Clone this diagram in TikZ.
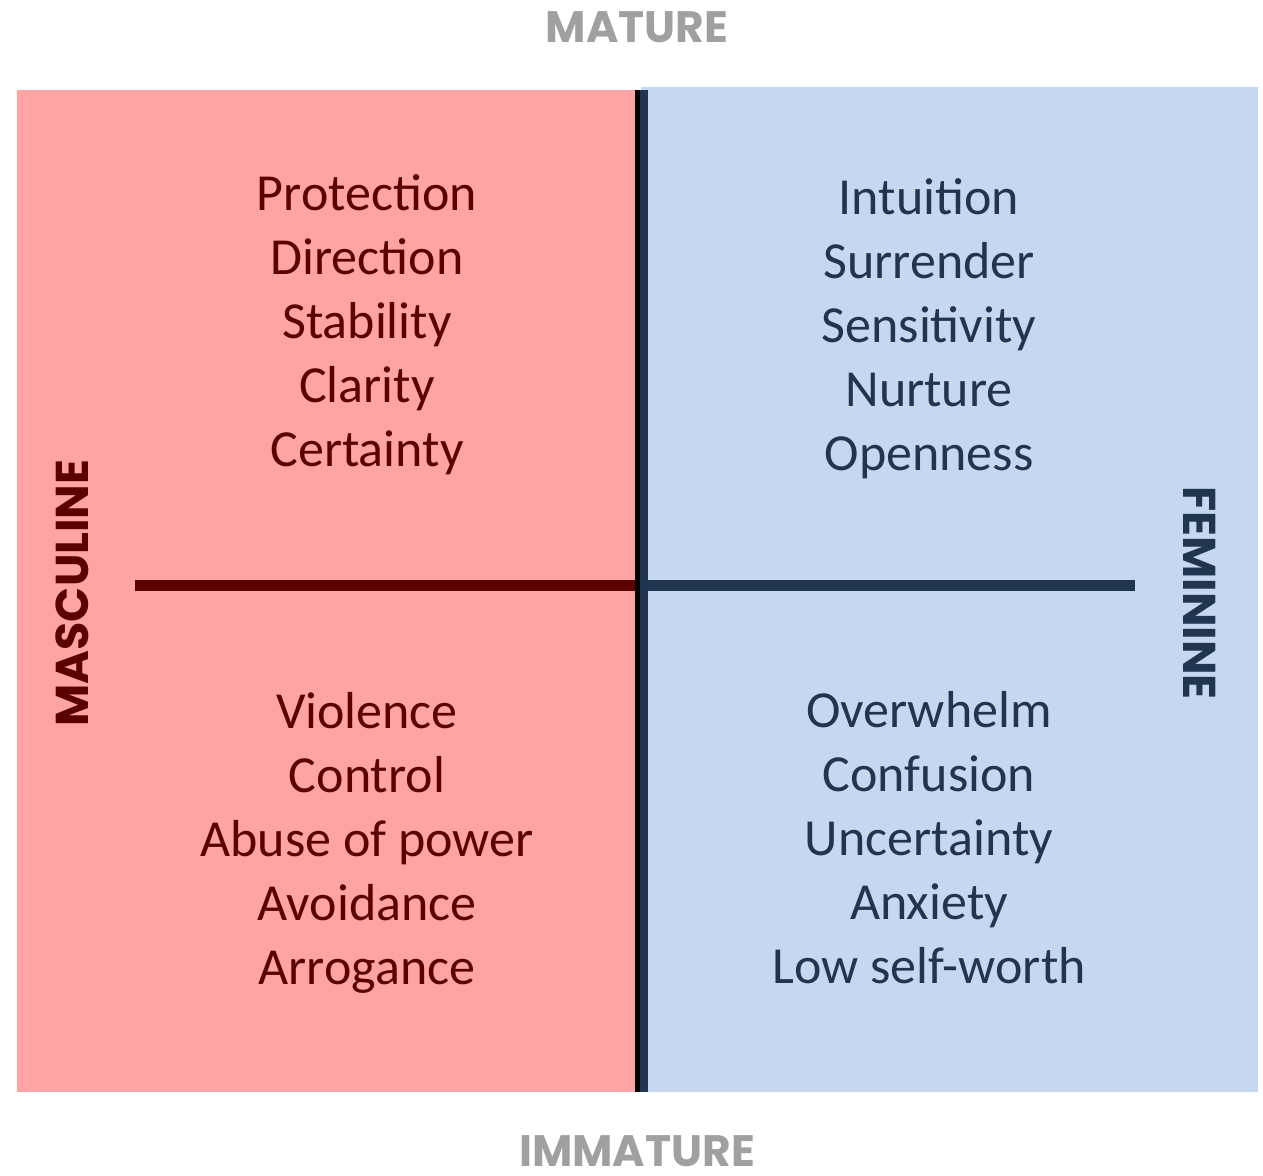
\documentclass[tikz,border=0pt]{standalone}
\usepackage{fontspec}
\setmainfont{Carlito}
\newfontfamily\axisfont{Poppins}
\usetikzlibrary{positioning}

\definecolor{mascpink}{HTML}{FFA3A5}
\definecolor{femblue}{HTML}{C5D8EF}
\definecolor{mascred}{HTML}{5C0000}
\definecolor{femnavy}{HTML}{1F3550}
\definecolor{axisgray}{HTML}{A0A0A0}

\begin{document}
\begin{tikzpicture}[x=0.5pt, y=-0.5pt,
        every node/.style={align=center, inner sep=0pt},
        quadtext/.style={font=\fontsize{26}{32}\selectfont},
        axislabel/.style={font=\axisfont\bfseries\fontsize{22}{24}\selectfont},
        sidelabel/.style={font=\axisfont\bfseries\fontsize{23}{26}\selectfont}]
    \useasboundingbox (0,0) rectangle (1263,1175);

    % the two halves
    \fill[mascpink] (17,90) rectangle (637,1092);
    \fill[femblue]  (641,87) rectangle (1258,1092);

    % axes
    \coordinate (top)    at (640,90);
    \coordinate (bottom) at (640,1092);
    \coordinate (west)   at (135,585.5);
    \coordinate (middle) at (640,585.5);
    \coordinate (east)   at (1135,585.5);
    \draw[mascred, line width=5.5pt] (west) -- (middle);
    \draw[femnavy, line width=5.5pt] (middle) -- (east);
    \draw[black, line width=2.5pt] ([xshift=-1.25pt]top) -- ([xshift=-1.25pt]bottom);
    \draw[femnavy, line width=4pt] ([xshift=2pt]top) -- ([xshift=2pt]bottom);

    % quadrants
    \node[quadtext, text=mascred] (mascmature) at (367,325)
        {Protection\\Direction\\Stability\\Clarity\\Certainty};
    \node[quadtext, text=femnavy] (femmature) at (929,329)
        {Intuition\\Surrender\\Sensitivity\\Nurture\\Openness};
    \node[quadtext, text=mascred] (mascimmature) at (367,843)
        {Violence\\Control\\Abuse of power\\Avoidance\\Arrogance};
    \node[quadtext, text=femnavy] (femimmature) at (929,838)
        {Overwhelm\\Confusion\\Uncertainty\\Anxiety\\Low self-worth};

    % axis labels
    \node[axislabel, text=axisgray] (mature)   at (637,27)   {MATURE};
    \node[axislabel, text=axisgray] (immature) at (637,1151) {IMMATURE};
    \node[sidelabel, text=mascred, rotate=90]  (masculine) at (72,593)   {MASCULINE};
    \node[sidelabel, text=femnavy, rotate=-90] (feminine)  at (1200,593) {FEMININE};
\end{tikzpicture}
\end{document}
